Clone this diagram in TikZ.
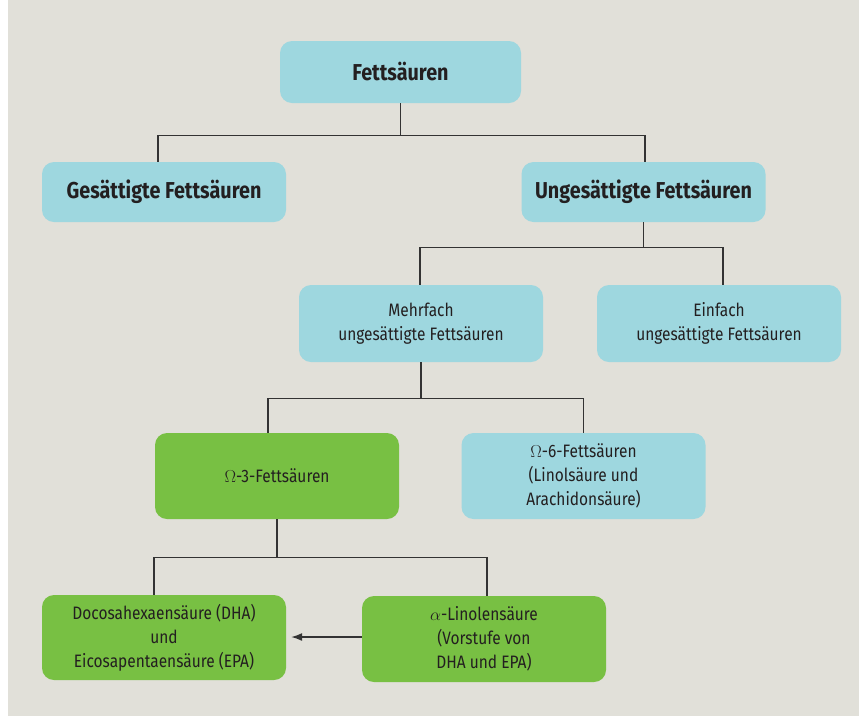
\documentclass[tikz,border=0pt]{standalone}
\usepackage{fontspec}
\setmainfont{Fira Sans}[FakeStretch=0.86]
\usetikzlibrary{arrows.meta}

\definecolor{bgcol}{HTML}{E1E0D9}
\definecolor{boxblue}{HTML}{9ED7DF}
\definecolor{boxgreen}{HTML}{78C043}
\definecolor{txtcol}{HTML}{231F20}
\definecolor{linecol}{HTML}{333333}

\begin{document}
\begin{tikzpicture}[x=1pt, y=-1pt]
    \useasboundingbox (0,0) rectangle (859,716);
    \fill[bgcol] (8,0) rectangle (859,716);

    \begin{scope}[every node/.style={rounded corners=12pt,inner sep=0pt,align=center,text=txtcol,minimum width=244pt,font=\fontsize{18}{24}\selectfont},
                  head/.style={font=\fontsize{23}{28}\selectfont\bfseries}]
        \node[fill=boxblue,head,minimum height=62pt,minimum width=241pt] (FA_0) at (400.5, 72) {Fettsäuren};

        \node[fill=boxblue,head,minimum height=60pt] (FA_sat) at (164, 192) {Gesättigte Fettsäuren};
        \node[fill=boxblue,head,minimum height=60pt] (FA_unsat) at (643.5, 192) {Ungesättigte Fettsäuren};

        \node[fill=boxblue,minimum height=77pt] (FA_poly) at (421, 323.5) {Mehrfach\\ungesättigte Fettsäuren};
        \node[fill=boxblue,minimum height=77pt] (FA_mono) at (719, 323.5) {Einfach\\ungesättigte Fettsäuren};

        \node[fill=boxgreen,minimum height=86pt] (FA_w3) at (277, 476) {$\Omega$-3-Fettsäuren};
        \node[fill=boxblue,minimum height=86pt] (FA_w6) at (583.5, 476) {$\Omega$-6-Fettsäuren\\(Linolsäure und\\Arachidonsäure)};

        \node[fill=boxgreen,minimum height=85pt] (FA_dha) at (164, 637.5) {Docosahexaensäure (DHA)\\und\\Eicosapentaensäure (EPA)};
        \node[fill=boxgreen,minimum height=86pt] (FA_ala) at (484, 639) {$\alpha$-Linolensäure\\(Vorstufe von\\DHA und EPA)};
    \end{scope}

    \begin{scope}[every path/.style={draw=linecol,line width=1.3pt}]
        % one junction below every parent
        \path (FA_0.south) -- ++(0,32) coordinate (J_1);
        \path (FA_unsat.south) -- ++(0,25) coordinate (J_2);
        \path (FA_poly.south) -- ++(0,36) coordinate (J_3);
        \path (FA_w3.south) -- ++(0,38) coordinate (J_4);

        \path ([xshift=-6]FA_sat.north) |- (J_1) -| ([xshift=1.5]FA_unsat.north);
        \path ([xshift=-1]FA_poly.north) |- (J_2) -| ([xshift=4]FA_mono.north);
        \path ([xshift=-9]FA_w3.north) |- (J_3) -| (FA_w6.north);
        \path ([xshift=-10]FA_dha.north) |- (J_4) -| ([xshift=3]FA_ala.north);

        \path[-{Latex[length=11pt,width=8pt]},shorten >=5pt] ([yshift=2]FA_ala.west) -- ([yshift=2]FA_ala.west -| FA_dha.east);
    \end{scope}
\end{tikzpicture}
\end{document}
